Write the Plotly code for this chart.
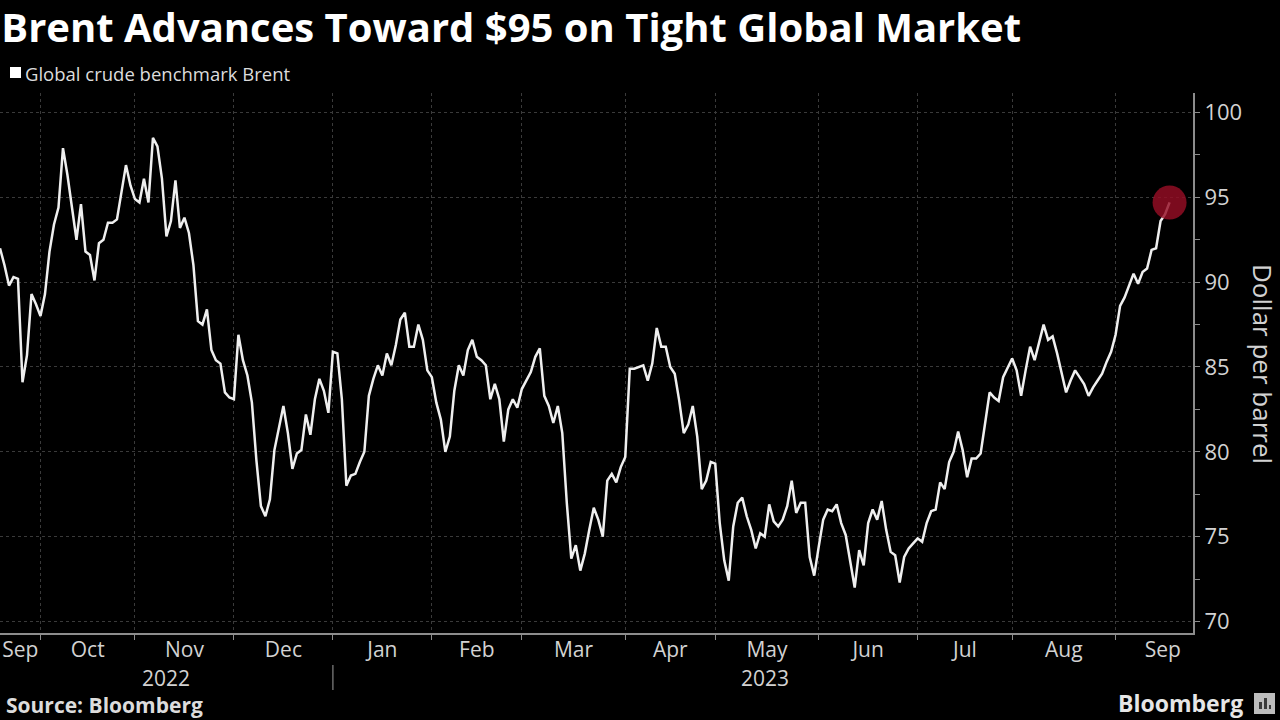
import pandas as pd
import plotly.graph_objects as go

# ---------------- data ----------------
title_text = "Brent Advances Toward $95 on Tight Global Market"
series_name = "Global crude benchmark Brent"
y_title = "Dollar per barrel"
source_text = "Source: Bloomberg"
brand_text = "Bloomberg"

start_date = "2022-09-20"          # first trading day shown
brent = [
    92.0, 91.0, 89.8, 90.3, 90.2, 84.1, 85.7, 89.3, 88.7, 88.0,
    89.3, 91.8, 93.4, 94.4, 97.9, 96.3, 94.4, 92.5, 94.6, 91.8,
    91.6, 90.1, 92.3, 92.5, 93.5, 93.5, 93.7, 95.2, 96.9, 95.7,
    94.9, 94.7, 96.1, 94.7, 98.5, 98.0, 96.1, 92.7, 93.6, 96.0,
    93.2, 93.8, 92.9, 91.0, 87.7, 87.5, 88.4, 86.0, 85.4, 85.2,
    83.5, 83.2, 83.1, 86.9, 85.4, 84.5, 82.9, 79.5, 76.8, 76.2,
    77.2, 80.1, 81.5, 82.7, 81.1, 79.0, 79.9, 80.1, 82.2, 81.0,
    83.1, 84.3, 83.6, 82.3, 85.9, 85.8, 83.1, 78.0, 78.6, 78.7,
    79.4, 80.0, 83.3, 84.3, 85.1, 84.5, 85.8, 85.1, 86.3, 87.8,
    88.2, 86.2, 86.2, 87.5, 86.6, 84.8, 84.4, 82.9, 81.9, 80.0,
    80.9, 83.6, 85.1, 84.5, 86.0, 86.6, 85.6, 85.4, 85.1, 83.1,
    84.0, 83.1, 80.6, 82.5, 83.1, 82.6, 83.7, 84.2, 84.7, 85.6,
    86.1, 83.3, 82.7, 81.7, 82.7, 81.1, 77.0, 73.7, 74.5, 73.0,
    74.0, 75.4, 76.7, 76.0, 75.0, 78.3, 78.7, 78.2, 79.1, 79.7,
    84.9, 84.9, 85.0, 85.1, 84.2, 85.2, 87.3, 86.2, 86.2, 85.0,
    84.6, 83.0, 81.1, 81.6, 82.7, 80.9, 77.8, 78.3, 79.4, 79.3,
    75.8, 73.6, 72.4, 75.6, 77.0, 77.3, 76.2, 75.4, 74.3, 75.2,
    75.0, 76.9, 75.9, 75.6, 76.0, 76.8, 78.3, 76.4, 77.0, 77.0,
    73.8, 72.7, 74.4, 76.0, 76.6, 76.5, 76.9, 75.8, 75.1, 73.5,
    72.0, 74.2, 73.3, 75.8, 76.6, 76.0, 77.1, 75.4, 74.1, 73.9,
    72.3, 73.8, 74.3, 74.6, 74.9, 74.7, 75.8, 76.5, 76.6, 78.2,
    77.8, 79.4, 80.0, 81.2, 80.1, 78.5, 79.6, 79.6, 79.9, 81.7,
    83.5, 83.2, 83.0, 84.4, 85.0, 85.5, 84.8, 83.3, 84.8, 86.2,
    85.4, 86.5, 87.5, 86.6, 86.8, 85.8, 84.6, 83.5, 84.2, 84.8,
    84.4, 84.0, 83.3, 83.8, 84.2, 84.6, 85.3, 85.9, 86.9, 88.6,
    89.1, 89.8, 90.5, 89.9, 90.6, 90.8, 91.9, 92.0, 93.6, 94.0,
    94.7,
]

month_starts = ["2022-09-01", "2022-10-01", "2022-11-01", "2022-12-01",
                "2023-01-01", "2023-02-01", "2023-03-01", "2023-04-01",
                "2023-05-01", "2023-06-01", "2023-07-01", "2023-08-01",
                "2023-09-01", "2023-10-01"]
month_labels = ["Sep", "Oct", "Nov", "Dec", "Jan", "Feb", "Mar", "Apr",
                "May", "Jun", "Jul", "Aug", "Sep"]
year_labels = ["2022", "2023"]
year_bounds = ["2022-01-01", "2023-01-01", "2024-01-01"]
y_ticks = [70, 75, 80, 85, 90, 95, 100]

x_start = pd.Timestamp("2022-09-20")
x_end = pd.Timestamp("2023-09-26 05:00")

# ---------------- helpers ----------------
dates = pd.bdate_range(start_date, periods=len(brent))


def bday_center(a, b):
    bd = pd.bdate_range(a, b)
    n = len(bd)
    return bd[n // 2] + pd.Timedelta(hours=12 * (n % 2))


month_ts = [pd.Timestamp(m) for m in month_starts]
label_pos = []
for i in range(len(month_labels)):
    a = max(month_ts[i], x_start)
    b = month_ts[i + 1] - pd.Timedelta(days=1)
    label_pos.append(bday_center(a, b))

grid_pos = [pd.bdate_range(m, periods=1)[0] for m in month_ts[1:-1]]

year_pos = []
for i in range(len(year_labels)):
    a = max(pd.Timestamp(year_bounds[i]), x_start)
    b = min(pd.Timestamp(year_bounds[i + 1]) - pd.Timedelta(days=1), x_end.normalize())
    year_pos.append(bday_center(a, b))
year_split = pd.bdate_range(year_bounds[1], periods=1)[0]

# ---------------- figure ----------------
W, H = 1280, 720
L, R, T, B = 0, 87, 93, 87
PW, PH = W - L - R, H - T - B


def px(xp):
    return (xp - L) / PW


def py(yp):
    return (H - B - yp) / PH


FONT = "Open Sans"
GRID = "#3a3a3a"
AXIS = "#8c8c8c"
TXT = "#d2d2d2"

fig = go.Figure()
fig.add_trace(go.Scatter(
    x=dates, y=brent, mode="lines", name=series_name,
    line=dict(color="#efefef", width=2.5), hoverinfo="x+y"))
fig.add_trace(go.Scatter(
    x=[dates[-1]], y=[brent[-1]], mode="markers", showlegend=False,
    marker=dict(size=34, color="rgba(150,14,36,0.82)", line=dict(width=0))))

fig.update_layout(
    width=W, height=H,
    margin=dict(l=L, r=R, t=T, b=B),
    paper_bgcolor="#000000", plot_bgcolor="#000000",
    showlegend=False,
    font=dict(family=FONT, color=TXT),
    title=dict(text="<b>" + title_text + "</b>", x=0.001, xanchor="left",
               y=1 - 28 / H, yanchor="middle",
               font=dict(family=FONT, size=40, color="#ffffff")),
)

fig.update_xaxes(
    type="date",
    range=[x_start, x_end],
    rangebreaks=[dict(bounds=["sat", "mon"])],
    tickmode="array", tickvals=label_pos, ticktext=month_labels,
    ticks="", showgrid=False, zeroline=False,
    tickfont=dict(family=FONT, size=21, color=TXT),
    ticklabelstandoff=-3,
    showline=True, linecolor=AXIS, linewidth=2,
    minor=dict(tickmode="array", tickvals=grid_pos, showgrid=True,
               gridcolor=GRID, griddash="dot", gridwidth=1,
               ticks="outside", ticklen=5, tickcolor=AXIS, tickwidth=1),
)

fig.update_yaxes(
    side="right", range=[69.32, 101.15],
    tickmode="array", tickvals=y_ticks,
    showgrid=True, gridcolor=GRID, griddash="dot", gridwidth=1,
    zeroline=False,
    showline=True, linecolor=AXIS, linewidth=2,
    ticks="outside", ticklen=5, tickcolor=AXIS, tickwidth=1,
    tickfont=dict(family=FONT, size=22, color=TXT),
    minor=dict(dtick=2.5, tick0=70, ticks="outside", ticklen=5,
               tickcolor=AXIS, showgrid=False),
)

# legend key + label
fig.add_shape(type="rect", xref="paper", yref="paper",
              x0=px(10), x1=px(21), y0=py(78), y1=py(67),
              fillcolor="#ffffff", line=dict(width=0))
fig.add_annotation(text=series_name, xref="paper", yref="paper",
                   x=px(23), y=py(73), xanchor="left", yanchor="middle",
                   showarrow=False, font=dict(family=FONT, size=18.5, color="#dcdcdc"))

# y-axis title (reads top to bottom)
fig.add_annotation(text=y_title, xref="paper", yref="paper",
                   x=px(1263), y=py(364), textangle=90,
                   xanchor="center", yanchor="middle", showarrow=False,
                   font=dict(family=FONT, size=26, color=TXT))

# year labels + separator
for lab, pos in zip(year_labels, year_pos):
    fig.add_annotation(text=lab, xref="x", yref="paper", x=pos, y=py(678),
                       xanchor="center", yanchor="middle", showarrow=False,
                       font=dict(family=FONT, size=21, color=TXT))
fig.add_shape(type="line", xref="x", yref="paper",
              x0=year_split, x1=year_split, y0=py(665), y1=py(690),
              line=dict(color="#6a6a6a", width=1.5))

# source + brand
fig.add_annotation(text="<b>" + source_text + "</b>", xref="paper", yref="paper",
                   x=px(4), y=py(705), xanchor="left", yanchor="middle",
                   showarrow=False, font=dict(family=FONT, size=21, color="#dcdcdc"))
fig.add_annotation(text="<b>" + brand_text + "</b>", xref="paper", yref="paper",
                   x=px(1245), y=py(703), xanchor="right", yanchor="middle",
                   showarrow=False, font=dict(family=FONT, size=23, color="#e6e6e6"))
fig.add_shape(type="rect", xref="paper", yref="paper",
              x0=px(1254), x1=px(1275), y0=py(714), y1=py(693),
              fillcolor="#bdbdbd", line=dict(width=0))
for bx0, bx1, by in [(1259, 1262, 702), (1264, 1267, 698), (1269, 1271, 705)]:
    fig.add_shape(type="rect", xref="paper", yref="paper",
                  x0=px(bx0), x1=px(bx1), y0=py(709), y1=py(by),
                  fillcolor="#3a3a3a", line=dict(width=0))

fig.write_html("out.html", config={"displayModeBar": False},
               post_script="document.body.style.margin='0';")
